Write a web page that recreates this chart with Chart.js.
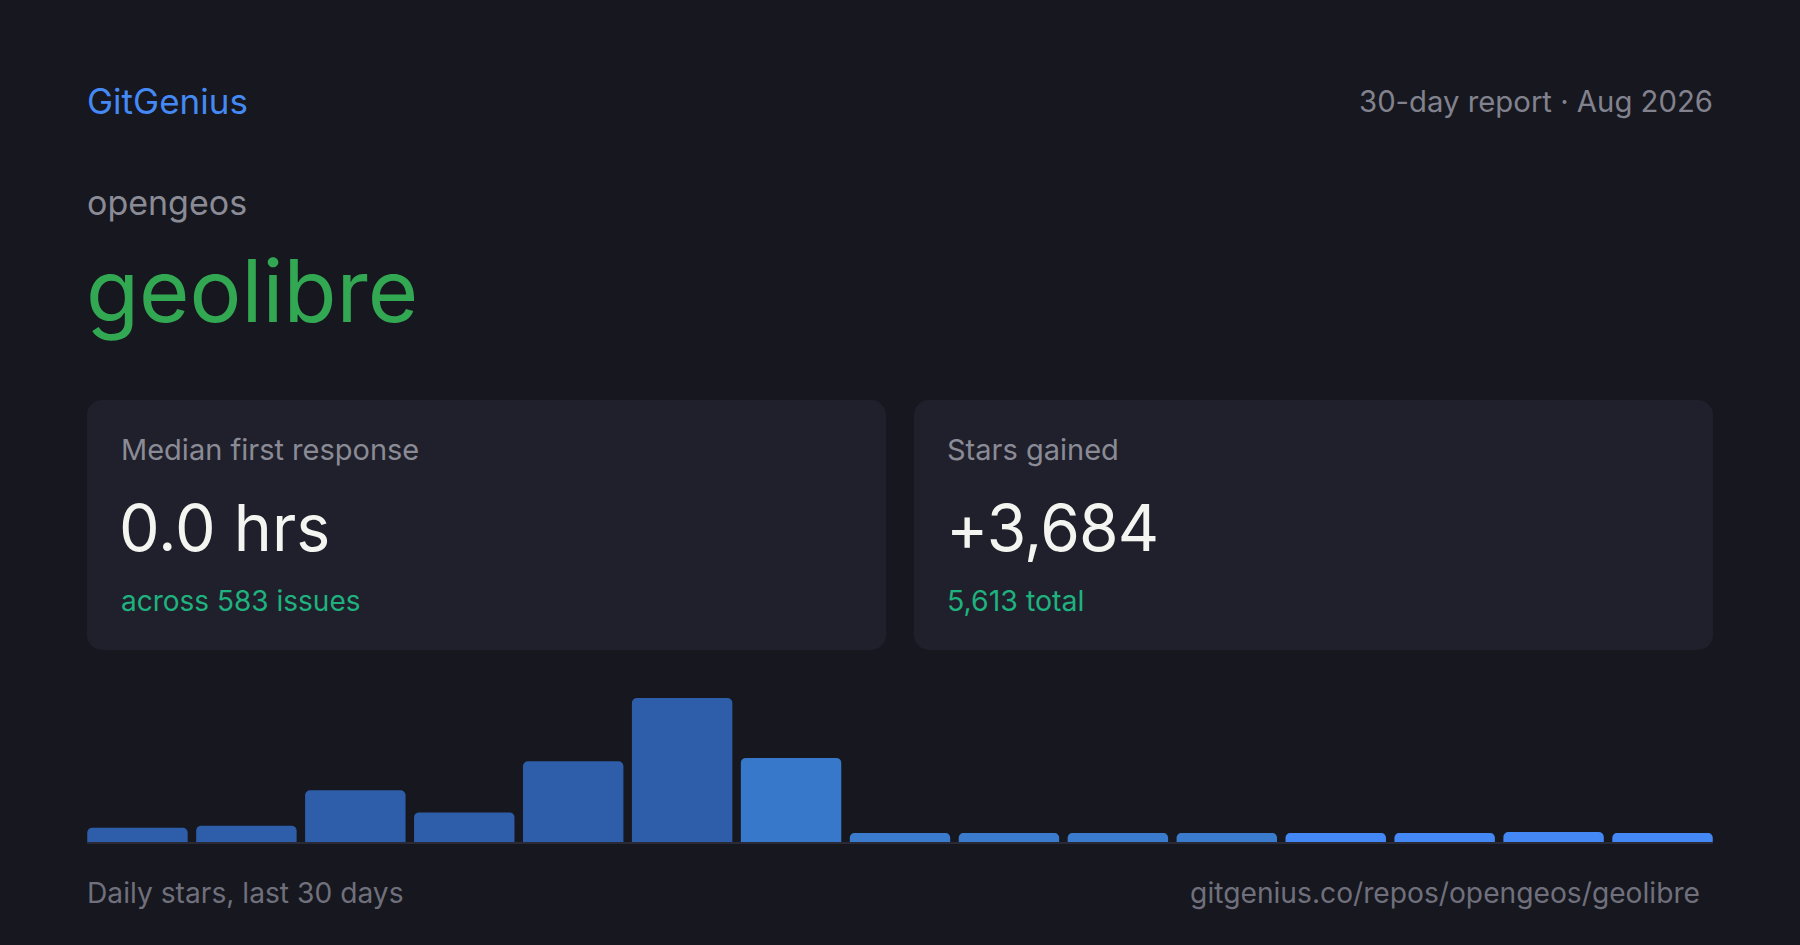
<!DOCTYPE html>
<html>
<head>
<meta charset="utf-8">
<script src="https://cdn.jsdelivr.net/npm/chart.js@4.4.1/dist/chart.umd.min.js"></script>
<style>
  html, body { margin:0; padding:0; background:#16171f; }
  #page { position:relative; width:1800px; height:945px; background:#16171f; overflow:hidden; font-family: Inter, "Noto Sans", sans-serif; }
  .t { position:absolute; line-height:1; white-space:nowrap; }
  .card { position:absolute; top:400px; width:799px; height:250px; background:#1f202b; border-radius:15px; }
  #chartBox { position:absolute; left:83px; top:698px; width:1634px; height:144px; }
  #baseline { position:absolute; left:87px; top:842px; width:1626px; height:2px; background:#292a36; }
</style>
</head>
<body>
<div id="page">
  <div class="t" style="left:87px; top:83.8px; font-size:35px; color:#4489f4;">GitGenius</div>
  <div class="t" style="right:87px; top:86.7px; font-size:29.3px; color:#82828e;">30-day report · Aug 2026</div>
  <div class="t" style="left:87px; top:185.6px; font-size:34px; color:#8b8b96;">opengeos</div>
  <div class="t" style="left:86px; top:248.2px; font-size:86.6px; color:#33a853;">geolibre</div>

  <div class="card" style="left:87px;"></div>
  <div class="card" style="left:914px;"></div>
  <div class="t" style="left:121px; top:435px; font-size:29px; color:#8b8b96;">Median first response</div>
  <div class="t" style="left:119px; top:495.7px; font-size:64.5px; color:#f4f4f0;">0.0 hrs</div>
  <div class="t" style="left:121px; top:586.8px; font-size:28px; color:#1fb27f;">across 583 issues</div>
  <div class="t" style="left:947px; top:435px; font-size:29px; color:#8b8b96;">Stars gained</div>
  <div class="t" style="left:946px; top:495.7px; font-size:64px; letter-spacing:-0.8px; color:#f4f4f0;">+3,684</div>
  <div class="t" style="left:947px; top:586.8px; font-size:28.5px; color:#1fb27f;">5,613 total</div>

  <div id="chartBox"><canvas id="c"></canvas></div>
  <div id="baseline"></div>

  <div class="t" style="left:87px; top:878.8px; font-size:28.2px; color:#70707c;">Daily stars, last 30 days</div>
  <div class="t" style="right:100px; top:878.8px; font-size:28.2px; color:#70707c;">gitgenius.co/repos/opengeos/geolibre</div>
</div>
<script>
const days = ["1","2","3","4","5","6","7","8","9","10","11","12","13","14","15"];
const stars = [105, 120, 385, 220, 600, 1070, 625, 66, 66, 66, 66, 66, 66, 74, 66];
const barColors = ["#2e5ea9","#2e5ea9","#2e5ea9","#2e5ea9","#2e5ea9","#2e5ea9","#3778cb","#3a7bce","#3a7bce","#3a7bce","#3a7bce","#4488f5","#4488f5","#4488f5","#4488f5"];

new Chart(document.getElementById('c'), {
  type: 'bar',
  data: {
    labels: days,
    datasets: [{
      data: stars,
      backgroundColor: barColors,
      borderRadius: { topLeft: 5, topRight: 5, bottomLeft: 0, bottomRight: 0 },
      borderSkipped: false,
      barPercentage: 0.922,
      categoryPercentage: 1.0
    }]
  },
  options: {
    responsive: true,
    maintainAspectRatio: false,
    animation: false,
    layout: { padding: 0 },
    plugins: { legend: { display: false }, tooltip: { enabled: false } },
    scales: {
      x: { display: false },
      y: { display: false, min: 0, max: Math.max(...stars) }
    }
  }
});
</script>
</body>
</html>
